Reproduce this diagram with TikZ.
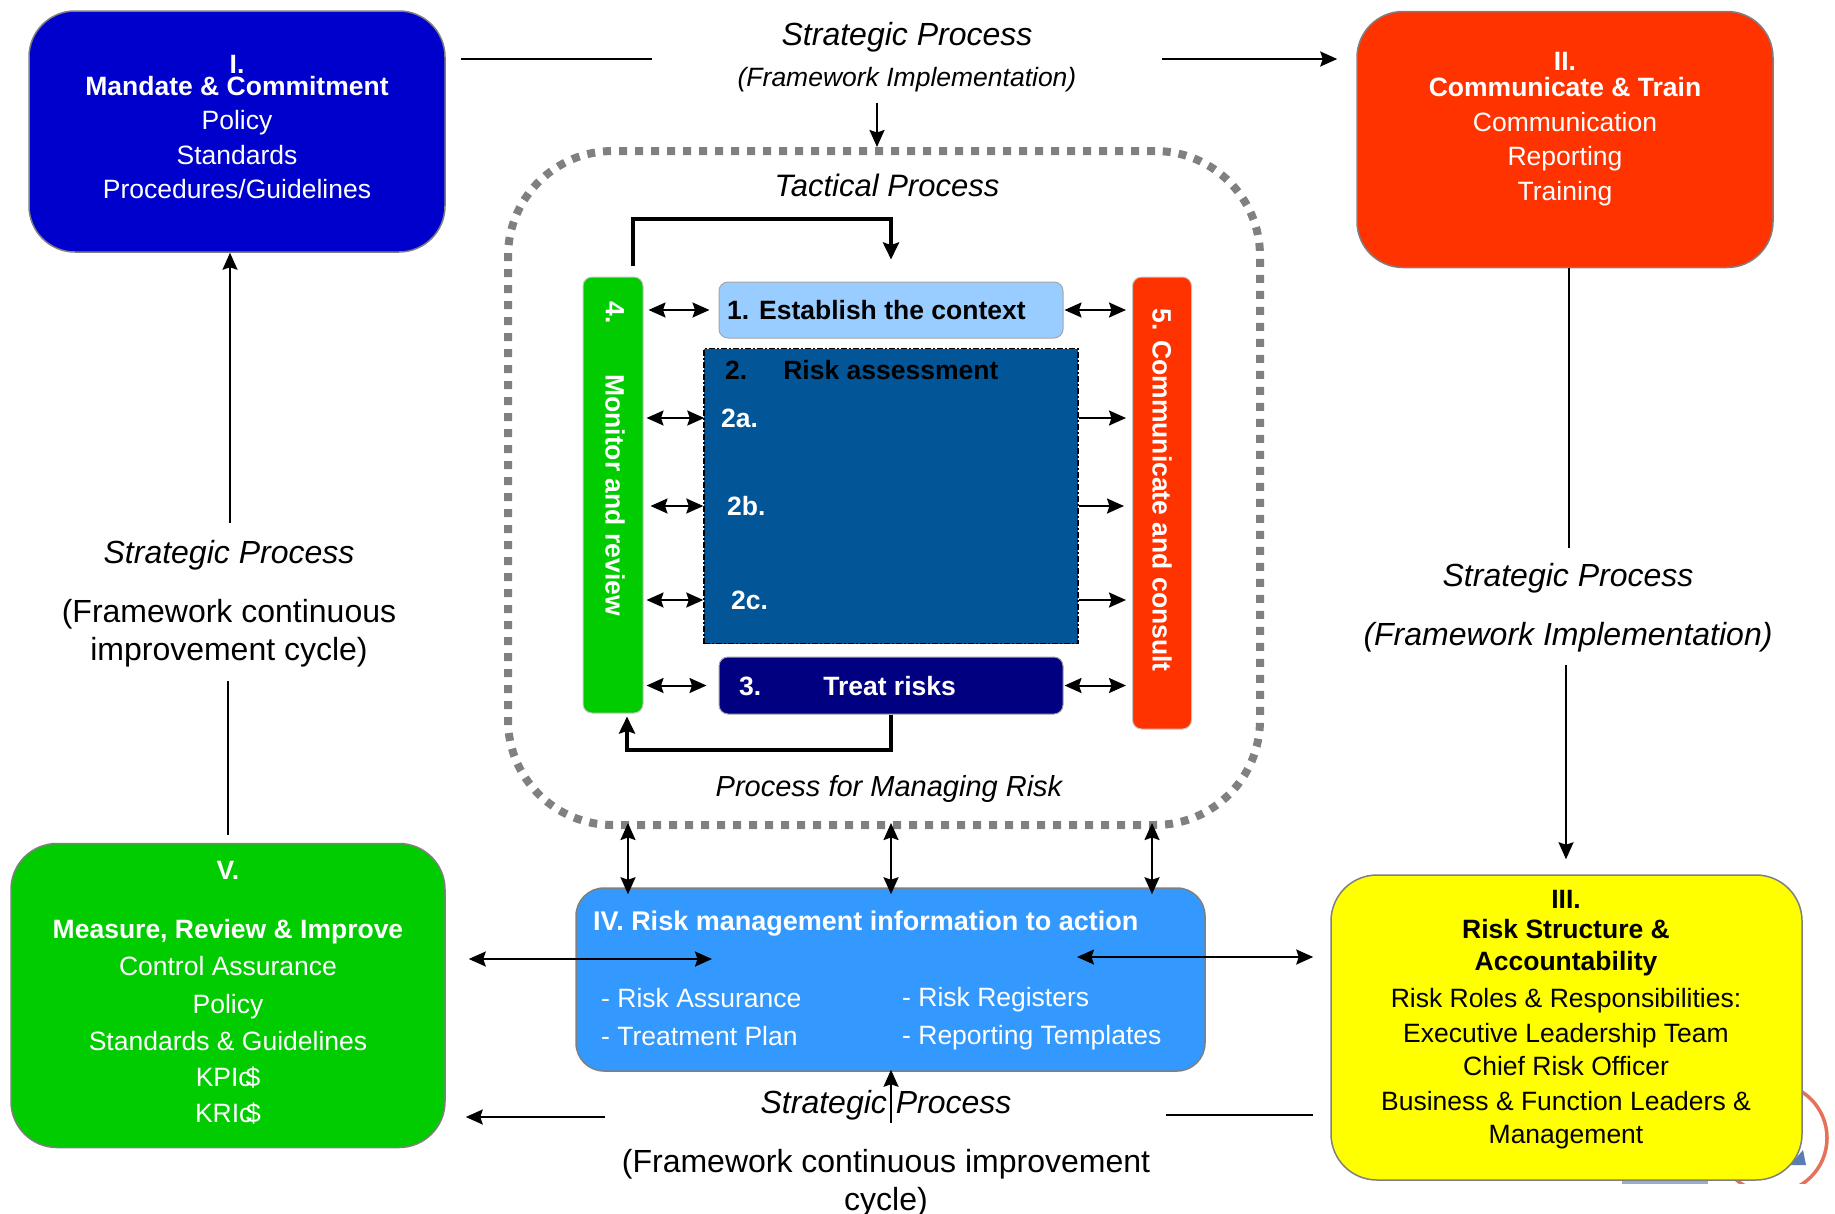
\documentclass[tikz,border=0pt]{standalone}
\usepackage{fontspec}
\setmainfont{Liberation Sans}
\usetikzlibrary{arrows.meta}

\newcommand{\setfs}[2]{\fontsize{#1}{#2}\selectfont}
\newcommand{\kpisuffix}{\rlap{c}\kern7pt\$}

\definecolor{mandblue}{HTML}{0000CC}
\definecolor{commred}{HTML}{FF3300}
\definecolor{structyellow}{HTML}{FFFF00}
\definecolor{measgreen}{HTML}{00CC00}
\definecolor{infoblue}{HTML}{3399FF}
\definecolor{ctxblue}{HTML}{99CCFF}
\definecolor{assessblue}{RGB}{2,86,152}
\definecolor{treatnavy}{HTML}{000080}
\definecolor{edgegray}{HTML}{7F7F7F}
\definecolor{dotgray}{HTML}{808080}
\definecolor{logored}{HTML}{E2583E}
\definecolor{logoblue}{HTML}{2F5C9E}

\begin{document}
\begin{tikzpicture}[x=1pt,y=-1pt,
  panel/.style={draw=edgegray, line width=1.5pt, rounded corners=46pt, inner sep=0pt},
  bar/.style={draw=edgegray!45, line width=1pt, rounded corners=9pt, inner sep=0pt},
  stepbox/.style={draw=edgegray!70, line width=1pt, rounded corners=9pt, inner sep=0pt},
  dotframe/.style={draw=dotgray, line width=8pt, dash pattern=on 8pt off 8pt,
                   rounded corners=105pt, inner sep=0pt},
  conn/.style={line width=2pt, draw=black},
  tipend/.style={-{Stealth[length=17pt,width=15pt,inset=2.5pt]}},
  tipboth/.style={{Stealth[length=17pt,width=15pt,inset=2.5pt]}-{Stealth[length=17pt,width=15pt,inset=2.5pt]}},
  loopline/.style={line width=4pt, -{Stealth[length=17pt,width=16pt,inset=2.5pt]}},
  lbl/.style={font=\setfs{32}{38}\itshape, inner sep=0pt},
  plainlbl/.style={font=\setfs{32}{38.5}, align=center, inner sep=0pt},
  boxtxt/.style={align=center, inner sep=0pt, font=\setfs{26.5}{34.5}},
  steptxt/.style={font=\setfs{26.5}{32}\bfseries, inner sep=0pt},
]
\useasboundingbox (0,0) rectangle (1835,1213);

% ---- logo fragment peeking out behind the structure panel
\begin{scope}
  \clip (1600,1085) rectangle (1835,1183);
  \draw[logored, line width=3.5pt, opacity=0.85] (1772,1138) circle (55);
  \fill[logoblue, opacity=0.8] (1790,1165) -- (1803,1150) -- (1806,1165) -- cycle;
  \fill[logoblue, opacity=0.5] (1622,1180) rectangle (1708,1186);
\end{scope}

% ---- framework panels
\node[panel, fill=mandblue, minimum width=416pt, minimum height=241pt] (mand) at (237,131.5) {};
\node[boxtxt, white] (mandTxt) at (237,127)
  {\textbf{I.}\\[-12.5pt]\textbf{Mandate \& Commitment}\\Policy\\Standards\\Procedures/Guidelines};

\node[panel, fill=commred, minimum width=416pt, minimum height=256pt] (comm) at (1565,139.5) {};
\node[boxtxt, white] (commTxt) at (1565,129)
  {\textbf{II.}\\[-8.5pt]\textbf{Communicate \& Train}\\Communication\\Reporting\\Training};

\node[panel, fill=structyellow, minimum width=471pt, minimum height=305pt] (struct) at (1566.5,1027.5) {};
\node[boxtxt, black, font=\setfs{26.5}{34}] (structTxt) at (1566,1020)
  {\textbf{III.}\\[-4pt]\textbf{Risk Structure \&}\\[-2pt]\textbf{Accountability}\\[3pt]
   Risk Roles \& Responsibilities:\\[1pt]Executive Leadership Team\\[-1pt]Chief Risk Officer\\[1pt]
   Business \& Function Leaders \&\\[-1pt]Management};

\node[panel, fill=measgreen, minimum width=434pt, minimum height=304pt] (meas) at (228,995.5) {};
\node[boxtxt, white, font=\setfs{26.5}{37}] (measTxt) at (228,993)
  {\textbf{V.}\\[22pt]\textbf{Measure, Review \& Improve}\\Control Assurance\\[1pt]Policy\\
   Standards \& Guidelines\\[-1pt]KPI\kpisuffix\\[-1pt]KRI\kpisuffix};

\node[panel, rounded corners=28pt, fill=infoblue, minimum width=629pt, minimum height=183pt] (info) at (890.5,979.5) {};
\node[white, anchor=west, inner sep=0pt, font=\setfs{27}{32}\bfseries] (infoTitle) at (593,924)
  {IV. Risk management information to action};
\node[white, anchor=west, align=left, inner sep=0pt, font=\setfs{26.5}{38}] (infoColA) at (601,1017)
  {- Risk Assurance\\- Treatment Plan};
\node[white, anchor=west, align=left, inner sep=0pt, font=\setfs{26.5}{38}] (infoColB) at (902,1019)
  {- Risk Registers\\- Reporting Templates};

% ---- process for managing risk
\node[dotframe, minimum width=752pt, minimum height=674pt] (frame) at (884,488) {};

\node[bar, fill=measgreen, minimum width=60pt, minimum height=436pt] (mon) at (613,495) {};
\node[steptxt, white, rotate=-90] (monNum) at (615,313) {4.};
\node[steptxt, white, rotate=-90] (monTxt) at (615,495) {Monitor and review};

\node[bar, fill=commred, minimum width=59pt, minimum height=452pt] (cons) at (1162,503) {};
\node[steptxt, white, rotate=-90] (consTxt) at (1162,490) {5. Communicate and consult};

\node[stepbox, fill=ctxblue, minimum width=344pt, minimum height=56pt] (est) at (891,310) {};
\node[steptxt, black, anchor=west] (estTxt) at (727,310) {1. Establish the context};

\node[draw=black, line width=1.4pt, dash pattern=on 6pt off 2pt on 2pt off 2pt, fill=assessblue,
      minimum width=374pt, minimum height=295pt, inner sep=0pt] (assess) at (891,496) {};
\node[steptxt, black, anchor=west] (assessTxt) at (725,370) {2.\hspace{36pt}Risk assessment};
\node[steptxt, white, anchor=west] (lblA) at (721,418) {2a.};
\node[steptxt, white, anchor=west] (lblB) at (727,506) {2b.};
\node[steptxt, white, anchor=west] (lblC) at (731,600) {2c.};

\node[stepbox, fill=treatnavy, minimum width=344pt, minimum height=57pt] (treat) at (891,685.5) {};
\node[steptxt, white, anchor=west] (treatTxt) at (739,686) {3.\hspace{62pt}Treat risks};

% ---- process labels
\node[lbl] (topSP) at (907,37) {Strategic Process};
\node[lbl, font=\setfs{26.5}{32}\itshape] (topFI) at (907,80) {(Framework Implementation)};
\node[lbl, font=\setfs{31}{36}\itshape] (tactical) at (887,185) {Tactical Process};
\node[lbl, font=\setfs{29}{34}\itshape] (pfmr) at (889,789) {Process for Managing Risk};
\node[lbl] (leftSP) at (229,555) {Strategic Process};
\node[plainlbl] (leftFC) at (229,633) {(Framework continuous\\improvement cycle)};
\node[lbl] (rightSP) at (1568,578) {Strategic Process};
\node[lbl] (rightFI) at (1568,637) {(Framework Implementation)};
\node[lbl] (botSP) at (886,1105) {Strategic Process};
\node[plainlbl] (botFC) at (886,1183) {(Framework continuous improvement\\cycle)};

% ---- free ends of the outer connectors
\coordinate (tlA) at (461,59);
\coordinate (tlB) at (652,59);
\coordinate (trA) at (1162,59);
\coordinate (tcA) at (877,103);
\coordinate (rB) at (1569,548);
\coordinate (rC) at (1566,665);
\coordinate (lA) at (230,523);
\coordinate (lB) at (228,681);
\coordinate (vA) at (712,959);
\coordinate (vB) at (605,1117);
\coordinate (bA) at (891,1123);
\coordinate (brA) at (1166,1115);
\coordinate (rdA) at (1077,957);
\coordinate (fA) at (628,823);
\coordinate (fB) at (891,823);
\coordinate (fC) at (1152,823);
\coordinate (loopA) at (633,266);
\coordinate (loopB) at (891,219);

% ---- outer connectors
\draw[conn] (tlA) -- (tlB);
\draw[conn, tipend] (trA) -- ([xshift=-19pt]comm.west |- trA);
\draw[conn, tipend] (tcA) -- (tcA |- frame.north);
\draw[conn] ([xshift=4pt]comm.south) -- (rB);
\draw[conn, tipend] (rC) -- ([yshift=15pt]rC |- struct.north);
\draw[conn, tipend] (lA) -- (lA |- mand.south);
\draw[conn] (lB) -- ([yshift=8pt]lB |- meas.north);
\draw[conn, tipboth] ([xshift=23pt]meas.east |- vA) -- (vA);
\draw[conn, tipend] (vB) -- ([xshift=20pt]meas.east |- vB);
\draw[conn, tipend] (bA) -- ([yshift=2pt]bA |- info.south);
\draw[conn] (brA) -- ([xshift=-17pt]struct.west |- brA);
\draw[conn, tipboth] (rdA) -- ([xshift=-17pt]struct.west |- rdA);
\draw[conn, tipboth] (fA) -- ([yshift=-7pt]fA |- info.north);
\draw[conn, tipboth] (fB) -- ([yshift=-7pt]fB |- info.north);
\draw[conn, tipboth] (fC) -- ([yshift=-7pt]fC |- info.north);

% ---- loops of the risk process
\draw[loopline] (loopA) |- (loopB) -- ([yshift=22pt]est.north);
\draw[loopline] (treat.south) -- ++(0,35) -| ([xshift=14pt,yshift=-3pt]mon.south);

% ---- monitor and review <-> steps
\draw[conn, tipboth] ([xshift=5pt]mon.east |- est.west) -- ([xshift=-9pt]est.west);
\draw[conn, tipboth] ([xshift=3pt]mon.east |- lblA) -- ([xshift=1pt]assess.west |- lblA);
\draw[conn, tipboth] ([xshift=7pt]mon.east |- lblB) -- (assess.west |- lblB);
\draw[conn, tipboth] ([xshift=3pt]mon.east |- lblC) -- (assess.west |- lblC);
\draw[conn, tipboth] ([xshift=3pt]mon.east |- treat.west) -- ([xshift=-12pt]treat.west);

% ---- steps -> communicate and consult
\draw[conn, tipboth] ([xshift=1pt]est.east) -- ([xshift=-6pt]cons.west |- est.east);
\draw[conn, tipend] (assess.east |- lblA) -- ([xshift=-6pt]cons.west |- lblA);
\draw[conn, tipend] (assess.east |- lblB) -- ([xshift=-8pt]cons.west |- lblB);
\draw[conn, tipend] (assess.east |- lblC) -- ([xshift=-6pt]cons.west |- lblC);
\draw[conn, tipboth] ([xshift=1pt]treat.east) -- ([xshift=-6pt]cons.west |- treat.east);
\end{tikzpicture}
\end{document}
